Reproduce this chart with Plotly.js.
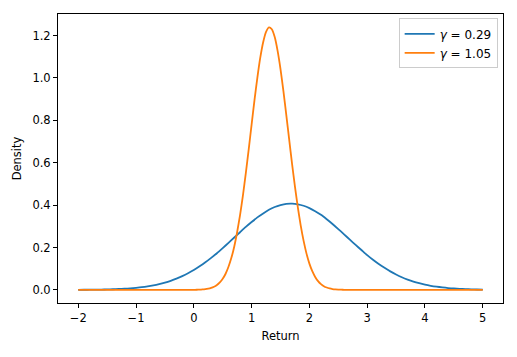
<!DOCTYPE html>
<html>
<head>
<meta charset="utf-8">
<script src="https://cdn.plot.ly/plotly-3.0.1.min.js"></script>
<style>html,body{margin:0;padding:0;background:#fff;}#chart{width:517px;height:357px;}</style>
</head>
<body>
<div id="chart"></div>
<script>
const xReturn = [-2.0,-1.9,-1.8,-1.7,-1.6,-1.5,-1.4,-1.3,-1.2,-1.1,-1.0,-0.9,-0.8,-0.7,-0.6,-0.5,-0.4,-0.3,-0.2,-0.1,
  0.0,0.1,0.2,0.3,0.4,0.5,0.6,0.7,0.8,0.9,1.0,1.1,1.2,1.3,1.4,1.5,1.6,1.7,1.8,1.9,
  2.0,2.1,2.2,2.3,2.4,2.5,2.6,2.7,2.8,2.9,3.0,3.1,3.2,3.3,3.4,3.5,3.6,3.7,3.8,3.9,
  4.0,4.1,4.2,4.3,4.4,4.5,4.6,4.7,4.8,4.9,5.0];
const densityLow = [0.0004,0.0005,0.0007,0.0011,0.0015,0.0021,0.0029,0.0040,0.0054,0.0073,0.0097,0.0127,0.0166,0.0213,0.0271,0.0343,0.0428,0.0529,0.0647,0.0782,
  0.0936,0.111,0.130,0.151,0.173,0.197,0.222,0.247,0.272,0.297,0.320,0.342,0.361,0.378,0.391,0.400,0.406,0.407,0.404,0.397,
  0.386,0.371,0.354,0.333,0.311,0.287,0.262,0.237,0.212,0.188,0.164,0.142,0.122,0.104,0.0873,0.0726,0.0597,0.0487,0.0392,0.0313,
  0.0247,0.0193,0.0149,0.0114,0.0086,0.0065,0.0048,0.0035,0.0026,0.0018,0.0013];
const xReturnFine = [-2.0,-1.5,-1.0,-0.5,-0.2,
  0.0,0.05,0.1,0.15,0.2,0.25,0.3,0.35,0.4,0.45,0.5,0.55,0.6,0.65,0.7,0.75,0.8,0.85,0.9,0.95,
  1.0,1.05,1.1,1.15,1.2,1.25,1.3,1.35,1.4,1.45,1.5,1.55,1.6,1.65,1.7,1.75,1.8,1.85,1.9,1.95,
  2.0,2.05,2.1,2.15,2.2,2.25,2.3,2.35,2.4,2.45,2.5,2.55,2.6,2.8,3.0,3.5,4.0,4.5,5.0];
const densityHigh = [0,0,0,0,0,
  0.0003,0.0006,0.0011,0.0019,0.0032,0.0054,0.0090,0.0145,0.0227,0.0348,0.052,0.0761,0.109,0.151,0.205,0.273,0.353,0.446,0.551,0.663,
  0.780,0.895,1.002,1.096,1.169,1.218,1.239,1.230,1.193,1.128,1.042,0.939,0.826,0.710,0.595,0.487,0.389,0.303,0.231,0.171,
  0.124,0.088,0.061,0.041,0.027,0.0174,0.011,0.0067,0.004,0.0023,0.0013,0.0007,0.0004,0,0,0,0,0,0];
const seriesNames = ['<i>γ</i> = 0.29', '<i>γ</i> = 1.05'];
const yTicks = [0.0,0.2,0.4,0.6,0.8,1.0,1.2];
const xTicks = [-2,-1,0,1,2,3,4,5];

const font = {family: 'DejaVu Sans, sans-serif', size: 11.5, color: '#000'};
const traces = [
  {x: xReturn, y: densityLow, name: seriesNames[0], type: 'scatter', mode: 'lines',
   line: {color: '#1f77b4', width: 1.8, shape: 'spline', smoothing: 0.6}},
  {x: xReturnFine, y: densityHigh, name: seriesNames[1], type: 'scatter', mode: 'lines',
   line: {color: '#ff7f0e', width: 1.8, shape: 'spline', smoothing: 0.6}}
];
const axisCommon = {showline: true, mirror: true, linecolor: '#000', linewidth: 1, ticks: 'outside',
  ticklen: 4, tickcolor: '#000', tickwidth: 1, showgrid: false, zeroline: false, tickfont: font};
const layout = {
  width: 517, height: 357,
  margin: {l: 58, r: 14, t: 14, b: 54},
  paper_bgcolor: '#fff', plot_bgcolor: '#fff',
  font: font,
  showlegend: true,
  xaxis: Object.assign({}, axisCommon, {range: [-2.35, 5.35], tickvals: xTicks,
    title: {text: 'Return', font: font, standoff: 8}}),
  yaxis: Object.assign({}, axisCommon, {range: [-0.062, 1.302], tickvals: yTicks, tickformat: '.1f',
    title: {text: 'Density', font: font, standoff: 8}}),
  legend: {x: 0.988, y: 0.985, xanchor: 'right', yanchor: 'top', bordercolor: '#cccccc', borderwidth: 1,
    bgcolor: 'rgba(255,255,255,0.8)', font: {family: 'DejaVu Sans, sans-serif', size: 12, color: '#000'},
    itemwidth: 30, tracegroupgap: 0}
};
Plotly.newPlot('chart', traces, layout, {displayModeBar: false, staticPlot: true});
</script>
</body>
</html>
